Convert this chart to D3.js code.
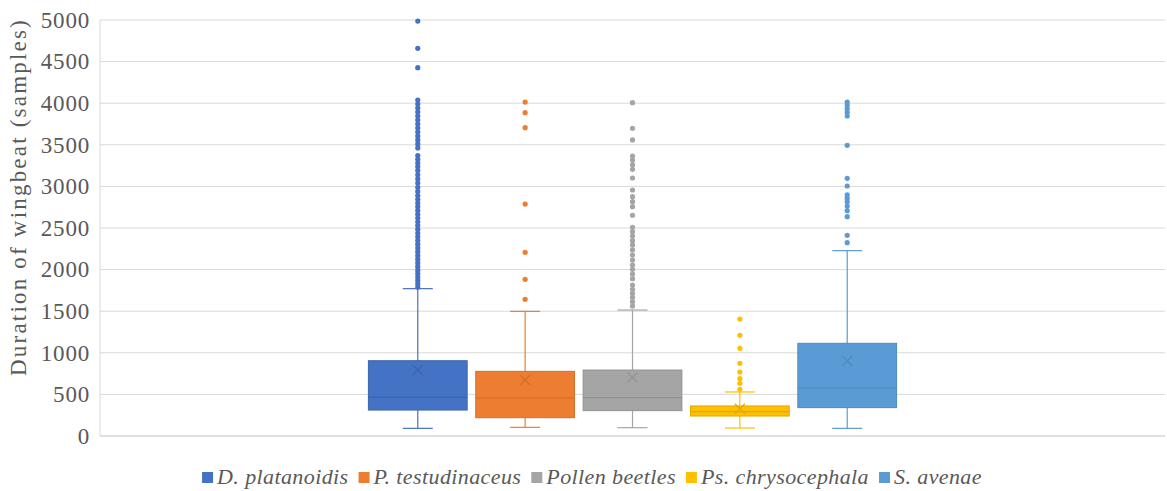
<!DOCTYPE html>
<html>
<head>
<meta charset="utf-8">
<script src="https://cdn.jsdelivr.net/npm/d3@7"></script>
<style>
    body { margin: 0; background: #ffffff; }
    svg text { font-family: "Liberation Serif", "DejaVu Serif", serif; fill: #595959; }
</style>
</head>
<body>
<svg id="chart" width="1167" height="491"></svg>
<script>
// series names, in legend order
var seriesNames = ['D. platanoidis', 'P. testudinaceus', 'Pollen beetles', 'Ps. chrysocephala', 'S. avenae'];
var seriesColors = ['#4472C4', '#ED7D31', '#A5A5A5', '#FFC000', '#5B9BD5'];

// box statistics (samples)
var whiskerLow  = [92, 104, 100, 96, 92];
var quartile1   = [312, 220, 305, 240, 341];
var medians     = [465, 457, 461, 292, 577];
var quartile3   = [905, 777, 793, 361, 1114];
var whiskerHigh = [1771, 1498, 1514, 529, 2228];
var means       = [793, 673, 705, 328, 901];

// outliers per series
var outliersD = [4987, 4660, 4427,
    4038, 3990, 3942, 3894, 3846, 3798, 3750, 3702, 3654, 3606, 3558, 3510, 3462,
    3370, 3325, 3280, 3235, 3190, 3140, 3090, 3040, 2990, 2940, 2890, 2845, 2800,
    2755, 2710, 2665, 2620, 2575, 2530, 2485, 2440, 2395, 2350, 2305, 2260, 2215,
    2170, 2125, 2080, 2035, 1990, 1950, 1910, 1870, 1830, 1790];
var outliersP = [4014, 3886, 3706, 2788, 2208, 1883, 1643];
var outliersPollen = [4006, 3698, 3558, 3365, 3317, 3261, 3205, 3101, 2957, 2877, 2817,
    2756, 2653, 2508, 2456, 2404, 2348, 2296, 2236, 2175, 2115, 2055, 2003, 1947,
    1891, 1815, 1763, 1715, 1667, 1614, 1562];
var outliersPs = [1406, 1210, 1054, 873, 769, 689, 633, 561];
var outliersS = [4014, 3978, 3934, 3890, 3846, 3494, 3097, 3005, 2897, 2857, 2816,
    2764, 2708, 2636, 2412, 2324];
var outliers = [outliersD, outliersP, outliersPollen, outliersPs, outliersS];

var yTicks = [0, 500, 1000, 1500, 2000, 2500, 3000, 3500, 4000, 4500, 5000];

function renderChart() {
    console.log('Entering renderChart');

    var width = 1167;
    var height = 491;
    var margin = { top: 20, right: 2, bottom: 55, left: 100 };
    var serif = '"Liberation Serif", "DejaVu Serif", serif';

    var svg = d3.select('#chart');

    var y = d3.scaleLinear()
        .domain([0, 5000])
        .range([height - margin.bottom, margin.top]);

    // one category, gap width 100% -> the group takes half the plot
    var plotW = width - margin.left - margin.right;
    var x = d3.scaleBand()
        .domain(seriesNames)
        .range([margin.left + plotW / 4, margin.left + plotW * 3 / 4])
        .paddingInner(0.08)
        .paddingOuter(0.02);

    // gridlines
    svg.append('g')
        .selectAll('line')
        .data(yTicks)
        .enter()
        .append('line')
        .attr('x1', margin.left)
        .attr('x2', width - margin.right)
        .attr('y1', function (d) { return y(d); })
        .attr('y2', function (d) { return y(d); })
        .attr('stroke', function (d) { return d == 0 ? '#bfbfbf' : '#d9d9d9'; })
        .attr('stroke-width', 1);

    // left axis line
    svg.append('line')
        .attr('x1', margin.left).attr('x2', margin.left)
        .attr('y1', y(5000)).attr('y2', y(0))
        .attr('stroke', '#d9d9d9');

    // y axis labels
    var yAxis = d3.axisLeft(y).tickValues(yTicks).tickSize(0).tickPadding(10)
        .tickFormat(d3.format('d'));
    var gAxis = svg.append('g')
        .attr('transform', 'translate(' + margin.left + ',0)')
        .attr('font-family', serif)
        .call(yAxis);
    gAxis.select('.domain').remove();
    gAxis.selectAll('text')
        .style('font-size', '23px')
        .style('letter-spacing', '0.8px')
        .style('font-family', serif)
        .attr('fill', '#595959');

    svg.append('text')
        .attr('transform', 'translate(26,197) rotate(-90)')
        .attr('text-anchor', 'middle')
        .style('font-family', serif)
        .style('font-size', '23px')
        .style('letter-spacing', '2.2px')
        .text('Duration of wingbeat (samples)');

    // boxes
    var capW = 30;
    seriesNames.forEach(function (name, i) {
        var col = seriesColors[i];
        var line = d3.color(col).darker(0.35).toString();
        var cx = x(name) + x.bandwidth() / 2;
        var g = svg.append('g');

        // whiskers
        g.append('line')
            .attr('x1', cx).attr('x2', cx)
            .attr('y1', y(whiskerHigh[i])).attr('y2', y(quartile3[i]))
            .attr('stroke', col).attr('stroke-width', 1.2);
        g.append('line')
            .attr('x1', cx).attr('x2', cx)
            .attr('y1', y(quartile1[i])).attr('y2', y(whiskerLow[i]))
            .attr('stroke', col).attr('stroke-width', 1.2);
        [whiskerHigh[i], whiskerLow[i]].forEach(function (v) {
            g.append('line')
                .attr('x1', cx - capW / 2).attr('x2', cx + capW / 2)
                .attr('y1', y(v)).attr('y2', y(v))
                .attr('stroke', col).attr('stroke-width', 1.2);
        });

        // box
        g.append('rect')
            .attr('x', x(name))
            .attr('y', y(quartile3[i]))
            .attr('width', x.bandwidth())
            .attr('height', y(quartile1[i]) - y(quartile3[i]))
            .attr('fill', col)
            .attr('stroke', line)
            .attr('stroke-width', 1);

        // median
        g.append('line')
            .attr('x1', x(name)).attr('x2', x(name) + x.bandwidth())
            .attr('y1', y(medians[i])).attr('y2', y(medians[i]))
            .attr('stroke', line).attr('stroke-width', 1.2);

        // mean marker
        var m = 5;
        var my = y(means[i]);
        g.append('path')
            .attr('d', 'M' + (cx - m) + ',' + (my - m) + 'L' + (cx + m) + ',' + (my + m) +
                'M' + (cx - m) + ',' + (my + m) + 'L' + (cx + m) + ',' + (my - m))
            .attr('stroke', line).attr('stroke-width', 1.2).attr('fill', 'none');

        // outliers
        g.selectAll('circle')
            .data(outliers[i])
            .enter()
            .append('circle')
            .attr('cx', cx)
            .attr('cy', function (d) { return y(d); })
            .attr('r', 2.6)
            .attr('fill', col);
    });

    // legend
    var legend = svg.append('g');
    var lx = 0;
    seriesNames.forEach(function (name, i) {
        var it = legend.append('g');
        it.append('rect')
            .attr('x', lx).attr('y', -7)
            .attr('width', 11).attr('height', 11)
            .attr('fill', seriesColors[i]);
        var t = it.append('text')
            .attr('x', lx + 15)
            .attr('y', 5)
            .style('font-family', serif)
            .style('font-size', '22px')
            .style('font-style', 'italic')
            .style('letter-spacing', '0.4px')
            .text(name);
        lx = lx + 15 + t.node().getComputedTextLength() + 10;
    });
    var legendW = lx - 10;
    legend.attr('transform', 'translate(' + (592 - legendW / 2) + ',479)');
}

renderChart();
</script>
</body>
</html>
